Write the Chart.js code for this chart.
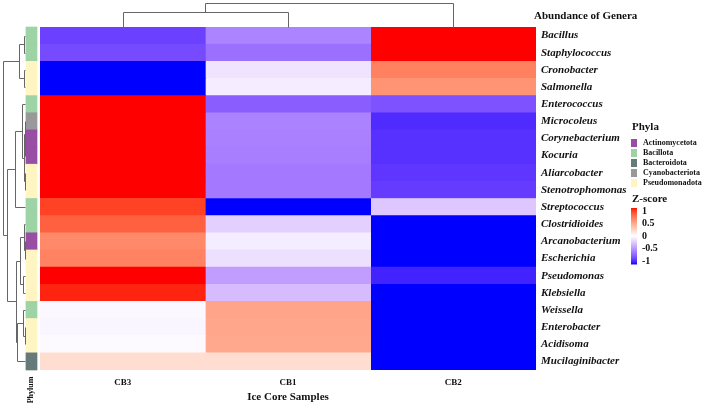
<!DOCTYPE html>
<html lang="en">
<head>
    <meta charset="UTF-8">
    <title>Abundance of Genera</title>
    <script src="https://cdn.jsdelivr.net/npm/chart.js"></script>
    <style>
        body { margin: 0; background: #fff; }
        canvas { display: block; }
    </style>
</head>
<body>
    <canvas id="heatmap" width="708" height="409"></canvas>

    <script>
        // rows, top to bottom (dendrogram order)
        const genera = ['Bacillus', 'Staphylococcus', 'Cronobacter', 'Salmonella', 'Enterococcus',
            'Microcoleus', 'Corynebacterium', 'Kocuria', 'Aliarcobacter', 'Stenotrophomonas',
            'Streptococcus', 'Clostridioides', 'Arcanobacterium', 'Escherichia', 'Pseudomonas',
            'Klebsiella', 'Weissella', 'Enterobacter', 'Acidisoma', 'Mucilaginibacter'];
        const genusPhylum = ['Bacillota', 'Bacillota', 'Pseudomonadota', 'Pseudomonadota', 'Bacillota',
            'Cyanobacteriota', 'Actinomycetota', 'Actinomycetota', 'Pseudomonadota', 'Pseudomonadota',
            'Bacillota', 'Bacillota', 'Actinomycetota', 'Pseudomonadota', 'Pseudomonadota',
            'Pseudomonadota', 'Bacillota', 'Pseudomonadota', 'Pseudomonadota', 'Bacteroidota'];

        const samples = ['CB3', 'CB1', 'CB2'];
        // z-scores per sample, same order as genera
        const cb3 = [-0.82, -0.78, -1, -1, 1, 1, 1, 1, 1, 1, 0.89, 0.78, 0.6, 0.63, 1, 0.96, -0.03, -0.04, -0.02, 0.18];
        const cb1 = [-0.53, -0.62, -0.12, -0.075, -0.7, -0.54, -0.55, -0.56, -0.58, -0.58, -1, -0.2, -0.08, -0.13, -0.42, -0.29, 0.47, 0.46, 0.45, 0.18];
        const cb2 = [1, 1, 0.64, 0.55, -0.75, -0.9, -0.88, -0.88, -0.86, -0.84, -0.24, -1, -1, -1, -0.93, -1, -1, -1, -1, -1];
        const zValues = [cb3, cb1, cb2];

        const phylaNames = ['Actinomycetota', 'Bacillota', 'Bacteroidota', 'Cyanobacteriota', 'Pseudomonadota'];
        const phylaColors = ['#984ea3', '#9ed3a5', '#66797b', '#999999', '#fff5c2'];

        const zTicks = [1, 0.5, 0, -0.5, -1];

        // dendrogram merges: [nodeA, nodeB, height], new nodes numbered after the leaves
        const rowMerges = [
            [0, 1, 0.044], [2, 3, 0.044], [20, 21, 0.29],
            [6, 7, 0.013], [5, 23, 0.03], [8, 9, 0.022], [24, 25, 0.053], [4, 26, 0.156], [27, 10, 0.467],
            [12, 13, 0.036], [11, 29, 0.067], [14, 15, 0.089], [30, 31, 0.22],
            [17, 18, 0.03], [16, 33, 0.089], [34, 19, 0.356], [32, 35, 0.4],
            [28, 36, 0.8], [22, 37, 1]
        ];
        const colMerges = [[0, 1, 0.625], [3, 2, 1]];

        // blue - white - red ramp, interpolated in Lab
        function toLab(rgb) {
            const lin = rgb.map(c => { c /= 255; return c <= 0.04045 ? c / 12.92 : Math.pow((c + 0.055) / 1.055, 2.4); });
            const X = (0.4124 * lin[0] + 0.3576 * lin[1] + 0.1805 * lin[2]) / 0.95047;
            const Y = 0.2126 * lin[0] + 0.7152 * lin[1] + 0.0722 * lin[2];
            const Z = (0.0193 * lin[0] + 0.1192 * lin[1] + 0.9505 * lin[2]) / 1.08883;
            const f = t => t > 0.008856 ? Math.cbrt(t) : 7.787 * t + 16 / 116;
            return [116 * f(Y) - 16, 500 * (f(X) - f(Y)), 200 * (f(Y) - f(Z))];
        }
        function fromLab(lab) {
            const fy = (lab[0] + 16) / 116, fx = fy + lab[1] / 500, fz = fy - lab[2] / 200;
            const inv = t => t > 0.206893 ? t * t * t : (t - 16 / 116) / 7.787;
            const X = inv(fx) * 0.95047, Y = inv(fy), Z = inv(fz) * 1.08883;
            const lin = [
                3.2406 * X - 1.5372 * Y - 0.4986 * Z,
                -0.9689 * X + 1.8758 * Y + 0.0415 * Z,
                0.0557 * X - 0.2040 * Y + 1.0570 * Z
            ];
            return lin.map(c => {
                c = Math.min(1, Math.max(0, c));
                c = c <= 0.0031308 ? 12.92 * c : 1.055 * Math.pow(c, 1 / 2.4) - 0.055;
                return Math.round(c * 255);
            });
        }
        const LAB_BLUE = toLab([0, 0, 255]), LAB_WHITE = toLab([255, 255, 255]), LAB_RED = toLab([255, 0, 0]);
        function zColor(v) {
            const t = Math.min(1, Math.abs(v));
            const end = v < 0 ? LAB_BLUE : LAB_RED;
            const rgb = fromLab(LAB_WHITE.map((w, i) => w + (end[i] - w) * t));
            return `rgb(${rgb[0]},${rgb[1]},${rgb[2]})`;
        }

        const serif = 'Liberation Serif, Times New Roman, serif';

        const datasets = zValues.map((vals, j) => ({
            label: samples[j],
            data: genera.map(() => [j, j + 1]),
            backgroundColor: vals.map(zColor),
            borderWidth: 0
        }));
        // phylum annotation strip, just left of the heatmap
        datasets.push({
            label: 'Phylum',
            data: genera.map(() => [-0.085, -0.018]),
            backgroundColor: genusPhylum.map(p => phylaColors[phylaNames.indexOf(p)]),
            borderWidth: 0,
            clip: false
        });

        function drawTree(ctx, merges, leafPos, toXY) {
            const nodes = leafPos.map(p => ({ p: p, h: 0 }));
            ctx.beginPath();
            merges.forEach(([a, b, h]) => {
                const na = nodes[a], nb = nodes[b];
                const A0 = toXY(na.p, na.h), A1 = toXY(na.p, h);
                const B0 = toXY(nb.p, nb.h), B1 = toXY(nb.p, h);
                ctx.moveTo(A0[0], A0[1]); ctx.lineTo(A1[0], A1[1]);
                ctx.lineTo(B1[0], B1[1]); ctx.lineTo(B0[0], B0[1]);
                nodes.push({ p: (na.p + nb.p) / 2, h: h });
            });
            ctx.stroke();
        }

        const extras = {
            id: 'extras',
            afterDraw(chart) {
                const ctx = chart.ctx;
                const xs = chart.scales.x, ys = chart.scales.y;
                const area = chart.chartArea;
                ctx.save();
                ctx.strokeStyle = '#666';
                ctx.lineWidth = 1;

                // row dendrogram
                const leafX = xs.getPixelForValue(-0.085) - 0.5;
                drawTree(ctx, rowMerges, genera.map((g, i) => ys.getPixelForValue(i)),
                    (p, h) => [Math.round(leafX - h * 22.5) + 0.5, Math.round(p) + 0.5]);
                // column dendrogram
                drawTree(ctx, colMerges, samples.map((s, j) => xs.getPixelForValue(j + 0.5)),
                    (p, h) => [Math.round(p) + 0.5, Math.round(area.top - h * 24) + 0.5]);

                ctx.fillStyle = '#111';
                ctx.textBaseline = 'middle';
                ctx.textAlign = 'left';
                ctx.font = `bold 11px ${serif}`;
                ctx.fillText('Abundance of Genera', 534, 16);

                // phyla legend
                ctx.font = `bold 11px ${serif}`;
                ctx.fillText('Phyla', 632, 127);
                ctx.font = `bold 8px ${serif}`;
                phylaNames.forEach((name, i) => {
                    const y = 143 + i * 10;
                    ctx.fillStyle = phylaColors[i];
                    ctx.fillRect(631, y - 4, 6, 8);
                    ctx.fillStyle = '#111';
                    ctx.fillText(name, 643, y);
                });

                // z-score colour bar
                ctx.font = `bold 11px ${serif}`;
                ctx.fillText('Z-score', 632, 199);
                const barTop = 208, barBottom = 264;
                const steps = 56;
                for (let k = 0; k < steps; k++) {
                    const v = 1 - 2 * (k + 0.5) / steps;
                    ctx.fillStyle = zColor(v);
                    ctx.fillRect(631, barTop + (barBottom - barTop) * k / steps, 6, (barBottom - barTop) / steps + 0.5);
                }
                ctx.fillStyle = '#111';
                ctx.font = `bold 10px ${serif}`;
                zTicks.forEach(t => {
                    const y = barTop + 3 + (1 - t) / 2 * (barBottom - barTop - 6);
                    ctx.fillText(String(t), 642, y);
                });

                // strip caption
                ctx.save();
                ctx.translate(31, 390);
                ctx.rotate(-Math.PI / 2);
                ctx.textAlign = 'center';
                ctx.font = `bold 8px ${serif}`;
                ctx.fillText('Phylum', 0, 0);
                ctx.restore();

                ctx.restore();
            }
        };

        new Chart(document.getElementById('heatmap'), {
            type: 'bar',
            data: { labels: genera, datasets: datasets },
            options: {
                indexAxis: 'y',
                responsive: false,
                animation: false,
                devicePixelRatio: 1,
                layout: { padding: { left: 40, top: 27, right: 0, bottom: 0 } },
                datasets: {
                    bar: { grouped: false, barPercentage: 1, categoryPercentage: 1 }
                },
                plugins: {
                    legend: { display: false },
                    tooltip: { enabled: false }
                },
                scales: {
                    x: {
                        type: 'linear',
                        min: 0,
                        max: 3,
                        grid: { display: false, drawTicks: false },
                        border: { display: false },
                        afterBuildTicks: s => { s.ticks = [0.5, 1.5, 2.5].map(v => ({ value: v })); },
                        afterFit: s => { s.height = 39; },
                        ticks: {
                            padding: 7,
                            color: '#111',
                            font: { family: serif, size: 9, weight: 'bold' },
                            callback: v => samples[Math.floor(v)]
                        },
                        title: {
                            display: true,
                            text: 'Ice Core Samples',
                            color: '#111',
                            font: { family: serif, size: 11, weight: 'bold' },
                            padding: { top: 0, bottom: 5 }
                        }
                    },
                    y: {
                        position: 'right',
                        grid: { display: false, drawTicks: false },
                        border: { display: false },
                        afterFit: s => { s.width = 172; },
                        ticks: {
                            padding: 5,
                            color: '#111',
                            font: { family: serif, size: 11, weight: 'bold', style: 'italic' }
                        }
                    }
                }
            },
            plugins: [extras]
        });
    </script>
</body>
</html>
